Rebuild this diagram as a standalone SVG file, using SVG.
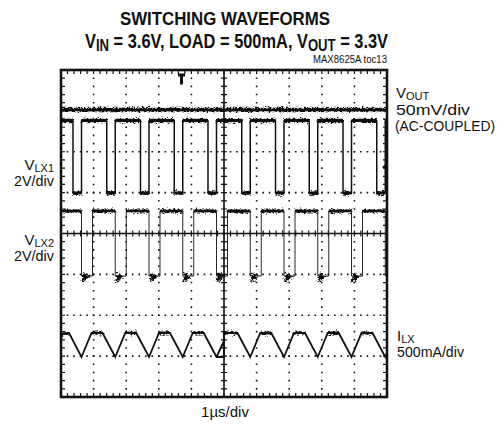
<svg xmlns="http://www.w3.org/2000/svg" width="500" height="430" viewBox="0 0 500 430">
<style>
.t{font-family:"Liberation Sans Narrow","Liberation Sans",Arial,sans-serif;fill:#111}
.b{font-weight:bold}
.lab{font-size:15px}
.sub{font-size:11px}
.dh{stroke:#111;stroke-width:1.6;stroke-dasharray:1.6 4.92;stroke-dashoffset:0.8;fill:none}
.dv{stroke:#111;stroke-width:1.6;stroke-dasharray:1.6 6.575;stroke-dashoffset:0.8;fill:none}
.tr{fill:none;stroke:#111;stroke-linejoin:miter}
</style>
<defs>
<filter id="nz" filterUnits="userSpaceOnUse" x="50" y="60" width="350" height="350">
<feTurbulence type="fractalNoise" baseFrequency="0.45 0.9" numOctaves="2" seed="7" result="t"/>
<feDisplacementMap in="SourceGraphic" in2="t" scale="7" xChannelSelector="R" yChannelSelector="G"/>
</filter>
</defs>
<rect width="500" height="430" fill="#fff"/>

<g id="titles">
<text class="t b" x="120" y="25" font-size="19" textLength="210" lengthAdjust="spacingAndGlyphs">SWITCHING WAVEFORMS</text>
<text class="t b" x="85" y="48" font-size="20" textLength="303" lengthAdjust="spacingAndGlyphs">V<tspan font-size="16" dy="3">IN</tspan><tspan dy="-3"> = 3.6V, LOAD = 500mA, V</tspan><tspan font-size="16" dy="3">OUT</tspan><tspan dy="-3"> = 3.3V</tspan></text>
<text class="t" x="387" y="63" font-size="10" text-anchor="end" textLength="74" lengthAdjust="spacingAndGlyphs">MAX8625A toc13</text>
</g>

<g id="grid">
<g class="dh">
<path d="M61,110.9H387M61,151.75H387M61,192.6H387M61,274.4H387M61,315.25H387M61,356.1H387"/>
</g>
<g class="dv">
<path d="M93.6,70V397M126.2,70V397M158.8,70V397M191.4,70V397M256.6,70V397M289.2,70V397M321.8,70V397M354.4,70V397"/>
</g>
<path d="M61,233.5H387M224,70V397" stroke="#111" stroke-width="1.6" fill="none"/>
<path d="M61,233.5H387" stroke="#111" stroke-width="6" stroke-dasharray="1.2 5.32" stroke-dashoffset="0.6" fill="none"/>
<path d="M224,70V397" stroke="#111" stroke-width="6" stroke-dasharray="1.2 6.975" stroke-dashoffset="0.6" fill="none"/>
<path d="M61,72.5H387M61,394.5H387" stroke="#111" stroke-width="3" stroke-dasharray="1.2 5.32" stroke-dashoffset="0.6" fill="none"/>
<path d="M63.5,70V397M384.5,70V397" stroke="#111" stroke-width="3" stroke-dasharray="1.2 6.975" stroke-dashoffset="0.6" fill="none"/>
<rect x="61" y="70" width="326" height="327" fill="none" stroke="#111" stroke-width="2.6"/>
<path d="M178,73.5h7v3h-2v8h-3v-8h-2z" fill="#111"/>
<path d="M387,163L382,167L387,171z" fill="#111"/>
</g>

<g id="trace-vout">
<path class="tr" d="M61,110H387" stroke-width="2.6"/>
<path class="tr" d="M61,109.5H387" stroke-width="3.4" filter="url(#nz)"/>
</g>

<g id="trace-vlx1">
<path class="tr" stroke-width="1.5" d="M61,121H73V193H81.5V121H106.75V193H115.25V121H140.5V193H149V121H174.25V193H182.75V121H208V193H216.5V121H241.75V193H250.25V121H275.5V193H284V121H309.25V193H317.75V121H343V193H351.5V121H376.75V193H385.25V121H387"/>
<path class="tr" stroke-width="3" d="M61,120.5H73M81.5,120.5H106.75M115.25,120.5H140.5M149,120.5H174.25M182.75,120.5H208M216.5,120.5H241.75M250.25,120.5H275.5M284,120.5H309.25M317.75,120.5H343M351.5,120.5H376.75M385.25,120.5H387M73,193H81.5M106.75,193H115.25M140.5,193H149M174.25,193H182.75M208,193H216.5M241.75,193H250.25M275.5,193H284M309.25,193H317.75M343,193H351.5M376.75,193H385.25"/>
<path class="tr" stroke-width="3.4" filter="url(#nz)" d="M61,120.5H73M81.5,120.5H106.75M115.25,120.5H140.5M149,120.5H174.25M182.75,120.5H208M216.5,120.5H241.75M250.25,120.5H275.5M284,120.5H309.25M317.75,120.5H343M351.5,120.5H376.75M385.25,120.5H387M73,193H81.5M106.75,193H115.25M140.5,193H149M174.25,193H182.75M208,193H216.5M241.75,193H250.25M275.5,193H284M309.25,193H317.75M343,193H351.5M376.75,193H385.25"/>
</g>

<g id="trace-vlx2">
<path class="tr" stroke="#999" stroke-width="0.9" d="M81.5,211V276H92.5V211M115.25,211V276H126.25V211M149,211V276H160V211M182.75,211V276H193.75V211M216.5,211V276H227.5V211M250.25,211V276H261.25V211M284,211V276H295V211M317.75,211V276H328.75V211M351.5,211V276H362.5V211M385.25,211V276H387"/>
<path class="tr" stroke-width="2.4" d="M61,211H81.5M92.5,211H115.25M126.25,211H149M160,211H182.75M193.75,211H216.5M227.5,211H250.25M261.25,211H284M295,211H317.75M328.75,211H351.5M362.5,211H385.25"/>
<path class="tr" stroke-width="3.2" filter="url(#nz)" d="M61,211H81.5M92.5,211H115.25M126.25,211H149M160,211H182.75M193.75,211H216.5M227.5,211H250.25M261.25,211H284M295,211H317.75M328.75,211H351.5M362.5,211H385.25"/>
<g stroke-width="2.2" class="tr" filter="url(#nz)">
<path d="M82.5,282L84.5,273L85.5,279L87.5,276L90,277"/>
<path d="M116.25,282L118.25,273L119.25,279L121.25,276L123.75,277"/>
<path d="M150,282L152,273L153,279L155,276L157.5,277"/>
<path d="M183.75,282L185.75,273L186.75,279L188.75,276L191.25,277"/>
<path d="M217.5,282L219.5,273L220.5,279L222.5,276L225,277"/>
<path d="M251.25,282L253.25,273L254.25,279L256.25,276L258.75,277"/>
<path d="M285,282L287,273L288,279L290,276L292.5,277"/>
<path d="M318.75,282L320.75,273L321.75,279L323.75,276L326.25,277"/>
<path d="M352.5,282L354.5,273L355.5,279L357.5,276L360,277"/>
</g>
</g>

<g id="trace-ilx">
<path class="tr" stroke-width="1.8" d="M61,334L69,333L81.5,357L91.5,333L102.5,333L115.25,357L125.25,333L136.25,333L149,357L159,333L170,333L182.75,357L192.75,333L203.75,333L216.5,357H224V333L237.5,333L250.25,357L260.25,333L271.25,333L284,357L294,333L305,333L317.75,357L327.75,333L338.75,333L351.5,357L361.5,333L372.5,333L385.25,357L387,353M216.5,357L224,341"/>
<path class="tr" stroke-width="3.2" filter="url(#nz)" d="M61,334H69M91.5,333H102.5M125.25,333H136.25M159,333H170M192.75,333H203.75M224,333H237.5M260.25,333H271.25M294,333H305M327.75,333H338.75M361.5,333H372.5"/>
</g>

<g id="labels">
<text class="t lab" x="396" y="98">V<tspan class="sub" dy="1.5">OUT</tspan></text>
<text class="t lab" x="396" y="114.5" textLength="74" lengthAdjust="spacingAndGlyphs">50mV/div</text>
<text class="t" x="395" y="130.5" font-size="14" textLength="100" lengthAdjust="spacingAndGlyphs">(AC-COUPLED)</text>
<text class="t lab" x="54" y="170" text-anchor="end">V<tspan class="sub" dy="1.5">LX1</tspan></text>
<text class="t lab" x="54" y="186" text-anchor="end" textLength="40" lengthAdjust="spacingAndGlyphs">2V/div</text>
<text class="t lab" x="54" y="245" text-anchor="end">V<tspan class="sub" dy="1.5">LX2</tspan></text>
<text class="t lab" x="54" y="261" text-anchor="end" textLength="40" lengthAdjust="spacingAndGlyphs">2V/div</text>
<text class="t lab" x="397" y="341">I<tspan class="sub" dy="1.5">LX</tspan></text>
<text class="t lab" x="397" y="357" textLength="67" lengthAdjust="spacingAndGlyphs">500mA/div</text>
<text class="t lab" x="225" y="417" text-anchor="middle">1µs/div</text>
</g>
</svg>
